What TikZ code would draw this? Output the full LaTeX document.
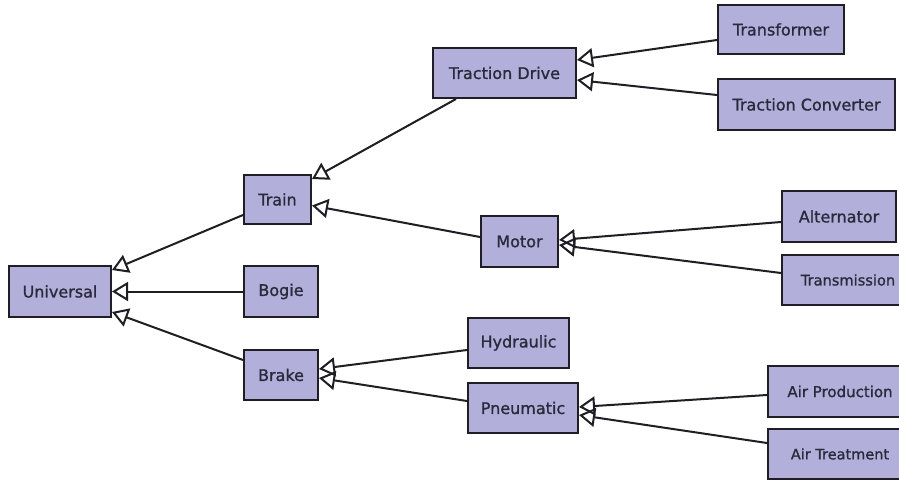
\documentclass[tikz,border=0pt]{standalone}
\usepackage{fontspec}
\setmainfont[FakeBold=1.2]{DejaVu Sans}
\usetikzlibrary{arrows.meta,calc}
\definecolor{boxfill}{RGB}{178,176,218}
\definecolor{textcol}{RGB}{42,42,60}
\definecolor{linecol}{RGB}{30,30,36}
\begin{document}
\begin{tikzpicture}[x=1pt,y=-1pt,
  box/.style={draw=linecol, line width=2pt, fill=boxfill, text=textcol,
    font=\fontsize{16}{19}\selectfont, inner sep=0pt, anchor=center},
  gen/.style={draw=linecol, line width=2pt,
    -{Triangle[open,length=16pt,width=19pt,line width=2pt]}}]
\useasboundingbox (0,0) rectangle (899,481);
\fill[white] (0,0) rectangle (899,481);
\clip (0,0) rectangle (899,481);

\node[box, minimum width=102pt, minimum height=51pt] (uni) at (60,291.5) {Universal};
\node[box, minimum width=67pt, minimum height=49pt] (train) at (277.5,199.5) {Train};
\node[box, minimum width=74pt, minimum height=51pt] (bogie) at (281,291.5) {Bogie};
\node[box, minimum width=74pt, minimum height=50pt] (brake) at (281,375) {Brake};
\node[box, minimum width=143pt, minimum height=50pt] (td) at (504.5,73) {Traction Drive};
\node[box, minimum width=126pt, minimum height=49pt] (tf) at (781,29.5) {Transformer};
\node[box, minimum width=177pt, minimum height=51pt] (tc) at (806.5,104.5) {Traction Converter};
\node[box, minimum width=77pt, minimum height=51pt] (motor) at (519.5,241.5) {Motor};
\node[box, minimum width=114pt, minimum height=51pt] (alt) at (839,216.5) {Alternator};
\node[box, font=\fontsize{14.6}{18}\selectfont, minimum width=132pt, minimum height=50pt] (trm) at (848,280) {Transmission};
\node[box, minimum width=101pt, minimum height=50pt] (hyd) at (518.5,343) {Hydraulic};
\node[box, minimum width=110pt, minimum height=50pt] (pn) at (523,408) {Pneumatic};
\node[box, font=\fontsize{15}{18}\selectfont, minimum width=144pt, minimum height=51pt] (ap) at (840,391.5) {Air Production};
\node[box, font=\fontsize{14.5}{18}\selectfont, minimum width=144pt, minimum height=50pt] (at) at (840,454) {Air Treatment};

% connectors
\draw[gen] ($(train.west)+(0,15.5)$) -- ($(uni.east)+(0,-21.5)$);
\draw[gen] (bogie.west) -- (uni.east);
\draw[gen] ($(brake.west)+(0,-15)$) -- ($(uni.east)+(0,20.5)$);

\draw[gen] ($(td.south west)+(24,0)$) -- ($(train.east)+(0,-20.5)$);
\draw[gen] ($(motor.west)+(0,-4.5)$) -- ($(train.east)+(0,6)$);

\draw[gen] ($(tf.west)+(0,10.5)$) -- ($(td.east)+(0,-13)$);
\draw[gen] ($(tc.west)+(0,-9.5)$) -- ($(td.east)+(0,7)$);

\draw[gen] ($(alt.west)+(0,5.5)$) -- ($(motor.east)+(0,-1.5)$);
\draw[gen] ($(trm.west)+(0,-7)$) -- ($(motor.east)+(0,3.5)$);

\draw[gen] ($(hyd.west)+(0,7)$) -- ($(brake.east)+(0,-6)$);
\draw[gen] ($(pn.west)+(0,-7)$) -- ($(brake.east)+(0,3)$);

\draw[gen] ($(ap.west)+(0,3.5)$) -- ($(pn.east)+(0,-1)$);
\draw[gen] ($(at.west)+(0,-11)$) -- ($(pn.east)+(0,7)$);
\end{tikzpicture}
\end{document}
